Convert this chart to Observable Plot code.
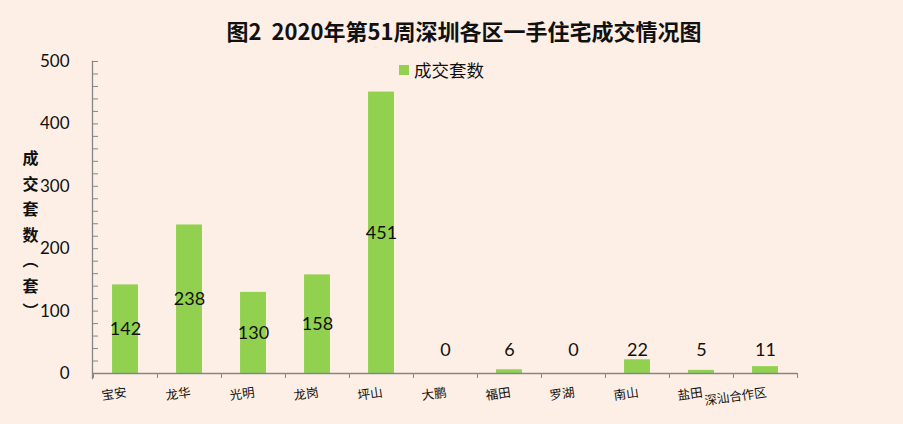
<!DOCTYPE html>
<html>
<head>
<meta charset="utf-8">
<script src="https://cdn.jsdelivr.net/npm/d3@7"></script>
<script src="https://cdn.jsdelivr.net/npm/@observablehq/plot@0.6"></script>
<style>
  html, body { margin: 0; padding: 0; background: #FDEFE5; }
  #wrap { position: relative; width: 903px; height: 424px; overflow: hidden; background: #FDEFE5; }
  #title { box-sizing: border-box; height: 50px; padding-top: 17px; padding-left: 25px; text-align: center;
    font-family: "Noto Sans CJK SC", sans-serif; font-weight: 700; font-size: 22px; line-height: 26px; color: #111; white-space: pre; }
  #legend { position: absolute; left: 399px; top: 57px; display: flex; align-items: center;
    font-family: "Noto Sans CJK SC", sans-serif; font-size: 17.5px; color: #111; }
  #legend .sw { width: 10px; height: 10px; background: #92D050; margin-right: 5px; }
  svg { display: block; }
</style>
</head>
<body>
<div id="wrap">
  <div id="title"></div>
  <div id="chart"></div>
  <div id="legend"><span class="sw"></span><span id="legtext"></span></div>
</div>
<script>
const titleText = "图2  2020年第51周深圳各区一手住宅成交情况图";
const seriesName = "成交套数";
const yAxisTitle = ["成", "交", "套", "数", "︵", "套", "︶"];
const categories = ["宝安", "龙华", "光明", "龙岗", "坪山", "大鹏", "福田", "罗湖", "南山", "盐田", "深汕合作区"];
const values = [142, 238, 130, 158, 451, 0, 6, 0, 22, 5, 11];
const yTicks = [0, 100, 200, 300, 400, 500];
const yMinorTicks = d3.range(0, 501, 20);

document.getElementById("title").textContent = titleText;
document.getElementById("legtext").textContent = seriesName;

const data = categories.map((c, i) => ({district: c, value: values[i]}));

const W = 903, H = 374, ML = 92, MR = 106, MT = 11, MB = 51;
const step = (W - ML - MR) / categories.length;
const barW = 26;
const inset = (step - barW) / 2;
const axisColor = "#868686";
const numFont = "Lato, 'Liberation Sans', sans-serif";
const cjkFont = "'Noto Sans CJK SC', sans-serif";

const chart = Plot.plot({
  width: W, height: H,
  marginLeft: ML, marginRight: MR, marginTop: MT, marginBottom: MB,
  style: {background: "transparent", color: "#111"},
  x: {domain: categories, padding: 0, axis: null},
  y: {domain: [0, 500]},
  marks: [
    Plot.barY(data, {x: "district", y: "value", fill: "#92D050", insetLeft: inset, insetRight: inset}),
    Plot.ruleY([0], {stroke: axisColor, strokeWidth: 1.3}),
    Plot.frame({anchor: "left", stroke: axisColor, strokeWidth: 1.3, insetBottom: -5}),
    Plot.axisY({ticks: yMinorTicks, tickSize: 6, dx: 6, tickFormat: () => "", stroke: axisColor, label: null}),
    Plot.axisY({ticks: yTicks, tickSize: 0, tickPadding: 23, fontSize: 17, fontFamily: numFont, fill: "#111", label: null}),
    Plot.axisX({ticks: categories, tickSize: 5, dx: -step / 2, tickFormat: () => "", stroke: axisColor, label: null}),
    Plot.axisX({ticks: [categories[categories.length - 1]], tickSize: 5, dx: step / 2, tickFormat: () => "", stroke: axisColor, label: null}),
    Plot.text(categories, {x: d => d, frameAnchor: "bottom", dy: 19, dx: 1, rotate: -8, textAnchor: "end", lineAnchor: "middle",
      fontSize: 12.5, fontFamily: cjkFont, fill: "#111"}),
    Plot.text(data, {x: "district", y: d => Math.max(d.value / 2, 37), text: d => String(d.value),
      fontSize: 18, fontFamily: numFont, fill: "#111"}),
    Plot.text([yAxisTitle.join("\n")], {frameAnchor: "left", dx: -70, dy: 15, lineAnchor: "middle",
      lineHeight: 1.6, fontSize: 16, fontWeight: "bold", fontFamily: cjkFont, fill: "#111"})
  ]
});
document.getElementById("chart").appendChild(chart);
</script>
</body>
</html>
